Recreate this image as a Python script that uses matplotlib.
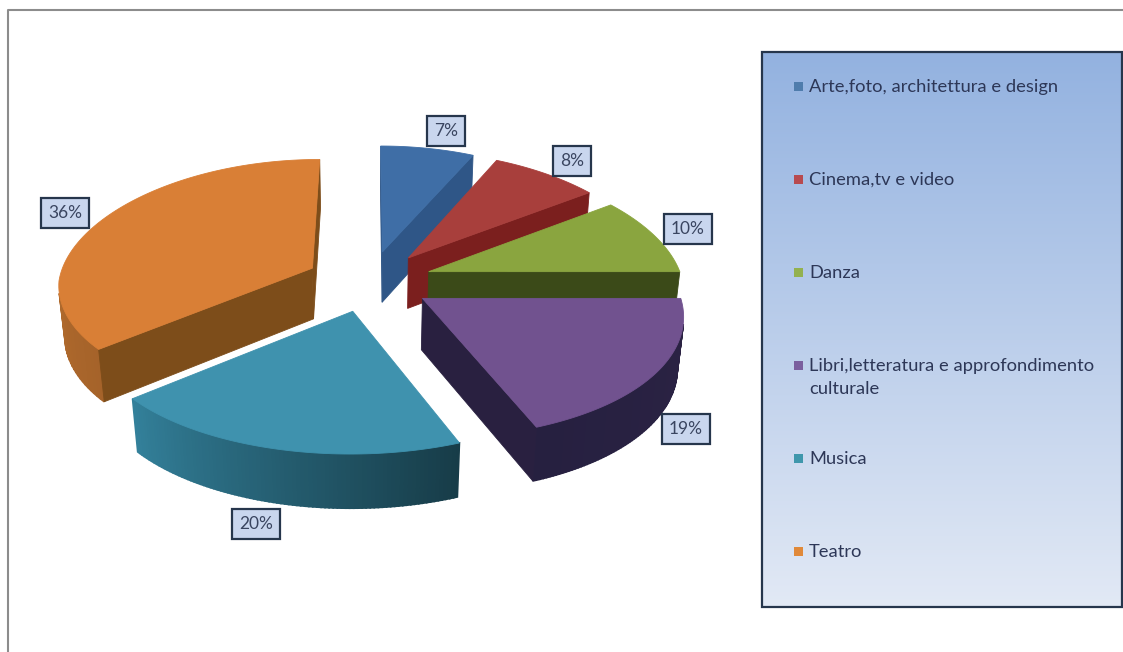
import numpy as np
from matplotlib import pyplot as plt
from matplotlib.colors import to_rgb
from matplotlib.patches import Rectangle

plt.rcParams['font.family'] = ['Lato', 'DejaVu Sans']

categories = ['Arte,foto, architettura e design', 'Cinema,tv e video', 'Danza',
              'Libri,letteratura e approfondimento\nculturale', 'Musica', 'Teatro']
values = [7, 8, 10, 19, 20, 36]

top_colors = ['#3f6ea6', '#a83f3c', '#8aa53f', '#71528f', '#3f92ae', '#d97f36']
side_colors = ['#2f5687', '#7b1f1e', '#3b4a18', '#292040', '#a9672b', '#7d4d1a']
arc_colors = [('#2f5687', '#2f5687'), ('#7b1f1e', '#7b1f1e'), ('#3b4a18', '#3b4a18'),
              ('#2c2344', '#262040'), ('#173c48', '#33809a'), ('#a5632a', '#d27e34')]
key_colors = ['#4f7cac', '#b84a4f', '#93b14f', '#7b5f9e', '#3f97ac', '#e0893a']

# where the percentage boxes sit (pixels)
label_x = [446, 572, 688, 686, 256, 65]
label_y = [131, 161, 229, 429, 524, 213]

# pie projection
cx, cy = 369, 281
rx, ry = 254, 122
depth = 0.1
height = 52
explode = 0.25


def project(x, y, bottom=False):
    w = 1 + depth * y + (0.02 if bottom else 0)
    # horizontal foreshortening is a bit stronger than the vertical one
    wx = 1 + (0.15 if y > 0 else 0.12) * y + (0.02 if bottom else 0)
    sx = cx + rx * x / wx
    sy = cy - ry * y / w
    if bottom:
        sy = sy + height / w
    return sx, sy


def area(q):
    xs = np.array([p[0] for p in q])
    ys = np.array([p[1] for p in q])
    return np.sum(xs * np.roll(ys, -1) - np.roll(xs, -1) * ys)


fig = plt.figure(figsize=(11.23, 6.52), dpi=100)
ax = fig.add_axes([0, 0, 1, 1])
ax.set_xlim(0, 1123)
ax.set_ylim(652, 0)
ax.axis('off')

# outer chart frame
ax.plot([8, 8, 1123], [652, 10, 10], color='#8c8c8c', lw=1.5)

edges = np.cumsum([0] + values) / sum(values) * 2 * np.pi
for i in range(len(values)):
    t0, t1 = edges[i], edges[i + 1]
    mid = (t0 + t1) / 2
    ox, oy = explode * np.sin(mid), explode * np.cos(mid)
    t = np.linspace(t0, t1, 90)
    xs, ys = ox + np.sin(t), oy + np.cos(t)

    apex = project(ox, oy)
    apex_b = project(ox, oy, True)
    rim = [project(a, b) for a, b in zip(xs, ys)]
    rim_b = [project(a, b, True) for a, b in zip(xs, ys)]

    # outer wall, shaded along the arc
    c0, c1 = np.array(to_rgb(arc_colors[i][0])), np.array(to_rgb(arc_colors[i][1]))
    for k in range(len(t) - 1):
        q = [rim[k], rim[k + 1], rim_b[k + 1], rim_b[k]]
        if area(q) < 0:
            f = k / (len(t) - 2)
            col = c0 + (c1 - c0) * f
            ax.fill([p[0] for p in q], [p[1] for p in q], color=col, lw=1.2)

    # cut faces
    q_start = [apex, rim[0], rim_b[0], apex_b]
    q_end = [apex, rim[-1], rim_b[-1], apex_b]
    if area(q_start) < 0:
        ax.fill([p[0] for p in q_start], [p[1] for p in q_start], color=side_colors[i], lw=0.6)
    if area(q_end) > 0:
        ax.fill([p[0] for p in q_end], [p[1] for p in q_end], color=side_colors[i], lw=0.6)

    # top face
    top = [apex] + rim
    ax.fill([p[0] for p in top], [p[1] for p in top], color=top_colors[i], lw=0.6)

for i, v in enumerate(values):
    ax.text(label_x[i], label_y[i], '{}%'.format(v), ha='center', va='center', fontsize=12.5,
            color='#3a4560', zorder=6,
            bbox=dict(boxstyle='square,pad=0.4', fc='#c9d6ee', ec='#26364c', lw=1.6))

# legend panel with vertical gradient
grad = np.linspace(0, 1, 256).reshape(-1, 1)
c_top, c_bot = np.array(to_rgb('#93b2e0')), np.array(to_rgb('#e2e9f5'))
ax.imshow(c_top + (c_bot - c_top) * grad[:, :, None], extent=[762, 1122, 607, 52],
          aspect='auto', zorder=2)
ax.add_patch(Rectangle((762, 52), 360, 555, fc='none', ec='#26364c', lw=1.6, zorder=3))
ax.set_xlim(0, 1123)
ax.set_ylim(652, 0)

legend_y = [86, 179, 272, 365, 458, 551]
for i, name in enumerate(categories):
    ax.add_patch(Rectangle((794, legend_y[i] - 4.5), 9, 9, fc=key_colors[i], ec='none', zorder=4))
    ax.text(809, legend_y[i] - 7, name, ha='left', va='top', fontsize=13.2, linespacing=1.55,
            color='#2d3757', zorder=4)

fig.savefig('out.png', dpi=100)
print('done')
